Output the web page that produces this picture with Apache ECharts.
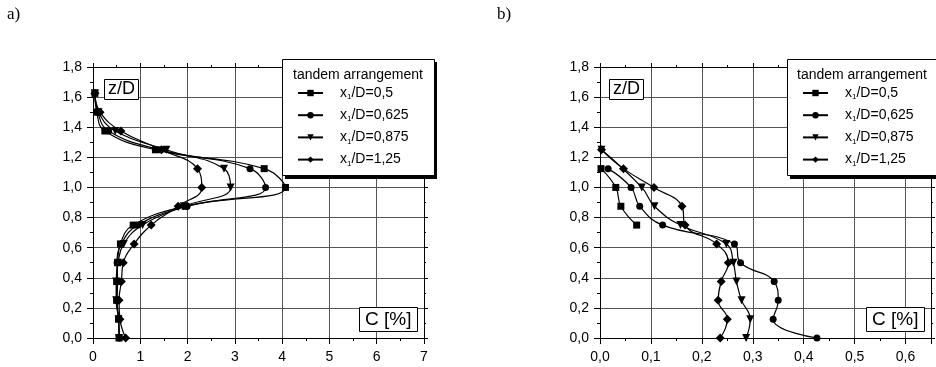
<!DOCTYPE html>
<html>
<head>
<meta charset="utf-8">
<script src="https://cdn.jsdelivr.net/npm/echarts@6/dist/echarts.min.js"></script>
<style>
  html, body { margin: 0; padding: 0; background: #fff; }
  #main { width: 936px; height: 367px; }
</style>
</head>
<body>
<div id="main"></div>
<script>
// z/D levels used by the left chart (all series share them)
var zLevels = [0, 0.125, 0.25, 0.375, 0.5, 0.625, 0.75, 0.875, 1.0, 1.125, 1.25, 1.375, 1.5, 1.625];

// a) C [%] per level
var leftSquare   = [0.55, 0.54, 0.50, 0.50, 0.52, 0.58, 0.85, 1.95, 4.07, 3.62, 1.32, 0.25, 0.08, 0.04];
var leftCircle   = [0.56, 0.54, 0.51, 0.52, 0.51, 0.60, 0.95, 1.99, 3.65, 3.32, 1.42, 0.33, 0.10, 0.04];
var leftTriangle = [0.55, 0.54, 0.49, 0.49, 0.53, 0.65, 1.05, 1.92, 2.91, 2.77, 1.55, 0.47, 0.12, 0.04];
var leftDiamond  = [0.69, 0.57, 0.55, 0.60, 0.64, 0.87, 1.23, 1.80, 2.30, 2.21, 1.45, 0.59, 0.15, 0.04];

// b) each series has its own levels
var rightSquareZ   = [0.75, 0.875, 1.0, 1.125];
var rightSquare    = [0.072, 0.041, 0.031, 0.002];
var rightCircleZ   = [0, 0.125, 0.25, 0.375, 0.5, 0.625, 0.75, 0.875, 1.0, 1.125];
var rightCircle    = [0.426, 0.340, 0.350, 0.342, 0.276, 0.264, 0.123, 0.078, 0.061, 0.016];
var rightTriangleZ = [0, 0.125, 0.25, 0.375, 0.5, 0.625, 0.75, 0.875, 1.0, 1.25];
var rightTriangle  = [0.287, 0.295, 0.278, 0.268, 0.262, 0.248, 0.158, 0.107, 0.082, 0.003];
var rightDiamondZ  = [0, 0.125, 0.25, 0.375, 0.5, 0.625, 0.75, 0.875, 1.0, 1.125, 1.25];
var rightDiamond   = [0.236, 0.250, 0.232, 0.238, 0.252, 0.229, 0.167, 0.161, 0.106, 0.046, 0.003];

var names = ['x1/D=0,5', 'x1/D=0,625', 'x1/D=0,875', 'x1/D=1,25'];
var symbols = [
  {symbol: 'rect', size: 7, rotate: 0},
  {symbol: 'circle', size: 7, rotate: 0},
  {symbol: 'triangle', size: 8, rotate: 180},
  {symbol: 'diamond', size: 9, rotate: 0}
];

var FONT = '"Liberation Sans", Arial, sans-serif';
var SERIF = '"Liberation Serif", "Times New Roman", serif';

function pairs(xs, zs) {
  var out = [];
  for (var i = 0; i < xs.length; i++) out.push([xs[i], zs[i]]);
  return out;
}

function comma(v) { return v.toFixed(1).replace('.', ','); }

function mainX(grid, max, interval, fmt) {
  return {
    type: 'value', gridIndex: grid, min: 0, max: max, interval: interval, position: 'bottom',
    axisLine: {show: true, onZero: false, lineStyle: {color: '#000', width: 1}},
    axisTick: {show: true, length: 6, lineStyle: {color: '#000'}},
    minorTick: {show: true, splitNumber: 2, length: 3, lineStyle: {color: '#000'}},
    axisLabel: {margin: 12, fontSize: 14, color: '#000', fontFamily: FONT, formatter: fmt, showMaxLabel: max === 7},
    splitLine: {show: true, lineStyle: {color: '#555', width: 1}},
    minorSplitLine: {show: false}
  };
}
function mirrorX(grid, max, interval) {
  return {
    type: 'value', gridIndex: grid, min: 0, max: max, interval: interval, position: 'top',
    axisLine: {show: true, onZero: false, lineStyle: {color: '#000', width: 1}},
    axisTick: {show: true, length: 4, lineStyle: {color: '#000'}},
    minorTick: {show: true, splitNumber: 2, length: 2, lineStyle: {color: '#000'}},
    axisLabel: {show: false}, splitLine: {show: false}
  };
}
function mainY(grid) {
  return {
    type: 'value', gridIndex: grid, min: 0, max: 1.8, interval: 0.2, position: 'left',
    axisLine: {show: true, onZero: false, lineStyle: {color: '#000', width: 1}},
    axisTick: {show: true, length: 6, lineStyle: {color: '#000'}},
    minorTick: {show: true, splitNumber: 2, length: 3, lineStyle: {color: '#000'}},
    axisLabel: {margin: 11, fontSize: 14, color: '#000', fontFamily: FONT, formatter: comma},
    splitLine: {show: true, lineStyle: {color: '#555', width: 1}}
  };
}
function mirrorY(grid) {
  return {
    type: 'value', gridIndex: grid, min: 0, max: 1.8, interval: 0.2, position: 'right',
    axisLine: {show: true, onZero: false, lineStyle: {color: '#000', width: 1}},
    axisTick: {show: true, length: 4, lineStyle: {color: '#000'}},
    minorTick: {show: true, splitNumber: 2, length: 2, lineStyle: {color: '#000'}},
    axisLabel: {show: false}, splitLine: {show: false}
  };
}

function makeSeries(idx, data, xi, yi) {
  var s = symbols[idx];
  return {
    name: names[idx], type: 'line', xAxisIndex: xi, yAxisIndex: yi,
    data: data, smooth: 0.45,
    symbol: s.symbol, symbolSize: s.size, symbolRotate: s.rotate, showAllSymbol: true,
    lineStyle: {color: '#000', width: 1.2},
    itemStyle: {color: '#000'},
    emphasis: {disabled: true}, animation: false, z: 3
  };
}

function legendFmt(name) {
  return '{a|x}{s|1}{a|' + name.slice(2) + '}';
}
function makeLegend(left) {
  return {
    orient: 'vertical', left: left, top: 81, itemWidth: 25, itemHeight: 8, itemGap: 7.2,
    selectedMode: false, data: names, z: 20,
    formatter: legendFmt,
    textStyle: {
      color: '#000', fontFamily: FONT, fontSize: 14, padding: [0, 0, 0, 12],
      rich: {
        a: {fontFamily: FONT, fontSize: 14, color: '#000', lineHeight: 16},
        s: {fontFamily: FONT, fontSize: 8, color: '#000', lineHeight: 8, verticalAlign: 'bottom'}
      }
    }
  };
}

function boxTitle(text, left, top, size, pad) {
  return {
    text: text, left: left, top: top, padding: pad, borderColor: '#000', borderWidth: 1,
    backgroundColor: '#fff', z: 20,
    textStyle: {fontFamily: FONT, fontSize: size, fontWeight: 'normal', color: '#000', lineHeight: size}
  };
}
function plainTitle(text, left, top, size, family) {
  return {
    text: text, left: left, top: top, padding: 0, z: 20,
    textStyle: {fontFamily: family, fontSize: size, fontWeight: 'normal', color: '#000', lineHeight: size}
  };
}

function legendBox(x) {
  return [
    {type: 'rect', shape: {x: x + 3, y: 62, width: 152, height: 117}, style: {fill: '#000'}, z: 15},
    {type: 'rect', shape: {x: x + 0.5, y: 59.5, width: 152, height: 116}, style: {fill: '#fff', stroke: '#000', lineWidth: 1}, z: 16}
  ];
}

var chart = echarts.init(document.getElementById('main'), null, {renderer: 'canvas'});

var option = {
  backgroundColor: '#fff',
  animation: false,
  grid: [
    {left: 93, top: 67, width: 331, height: 271, outerBoundsMode: 'none'},
    {left: 600, top: 67, width: 331, height: 271, outerBoundsMode: 'none'}
  ],
  xAxis: [
    mainX(0, 7, 1, function (v) { return String(v); }),
    mirrorX(0, 7, 1),
    mainX(1, 0.65, 0.1, comma),
    mirrorX(1, 0.65, 0.1)
  ],
  yAxis: [mainY(0), mirrorY(0), mainY(1), mirrorY(1)],
  title: [
    plainTitle('a)', 7, 6, 17, SERIF),
    plainTitle('b)', 497, 6, 17, SERIF),
    boxTitle('z/D', 104, 79, 18, [1, 4, 2, 4]),
    boxTitle('C [%]', 359, 307, 19, [3, 6, 3, 6]),
    boxTitle('z/D', 609, 79, 18, [1, 4, 2, 4]),
    boxTitle('C [%]', 866, 307, 19, [3, 6, 3, 6]),
    plainTitle('tandem arrangement', 293, 68, 14, FONT),
    plainTitle('tandem arrangement', 797, 68, 14, FONT)
  ],
  legend: [makeLegend(292), makeLegend(797)],
  graphic: {elements: legendBox(282).concat(legendBox(787))},
  series: [
    makeSeries(0, pairs(leftSquare, zLevels), 0, 0),
    makeSeries(1, pairs(leftCircle, zLevels), 0, 0),
    makeSeries(2, pairs(leftTriangle, zLevels), 0, 0),
    makeSeries(3, pairs(leftDiamond, zLevels), 0, 0),
    makeSeries(0, pairs(rightSquare, rightSquareZ), 2, 2),
    makeSeries(1, pairs(rightCircle, rightCircleZ), 2, 2),
    makeSeries(2, pairs(rightTriangle, rightTriangleZ), 2, 2),
    makeSeries(3, pairs(rightDiamond, rightDiamondZ), 2, 2)
  ]
};
chart.setOption(option);
</script>
</body>
</html>
